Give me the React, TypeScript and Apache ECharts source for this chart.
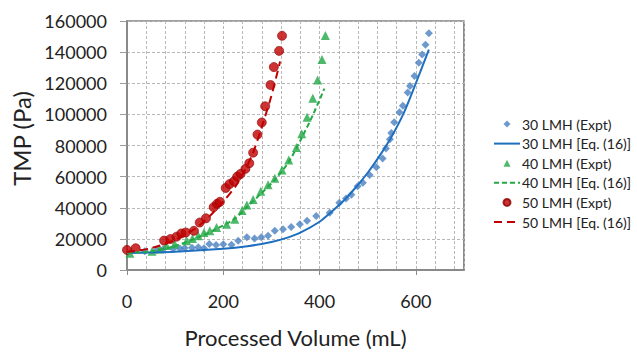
import React, { useEffect, useRef } from "react";
import * as echarts from "echarts";

// Processed volume (mL) vs transmembrane pressure (Pa)
const expt30: [number, number][] = [
  [37, 12100], [62, 12800], [75, 13300], [96, 13700], [110, 13800], [120, 14200],
  [135, 14300], [148, 14600], [160, 14000], [171, 16700], [185, 16000], [200, 16500],
  [217, 16300], [231, 18800], [249, 21000], [265, 20300], [279, 21000], [293, 22000],
  [307, 25200], [324, 26200], [341, 27700], [359, 29400], [374, 31600], [393, 34700],
  [421, 36800], [441, 43200], [455, 45900], [466, 48400], [479, 53800], [490, 56000],
  [504, 61000], [518, 66000], [531, 71700], [538, 78000], [546, 84000], [549, 88000],
  [555, 95000], [566, 101400], [573, 105600], [583, 114100], [588, 118300], [597, 124600],
  [606, 133100], [613, 138400], [620, 144800], [627, 152200],
];
const fit30: [number, number][] = [
  [0, 11000], [100, 11800], [200, 13600], [250, 15300], [300, 18000], [330, 20500],
  [360, 24000], [400, 31000], [425, 37500], [450, 44500], [475, 53000], [500, 62500],
  [525, 73500], [550, 86000], [575, 101000], [600, 120000], [627, 141600],
];
const expt40: [number, number][] = [
  [6, 10800], [52, 12000], [68, 13500], [82, 15700], [99, 16700], [124, 18800],
  [136, 20300], [148, 22000], [160, 24100], [172, 25200], [186, 27300], [207, 29400],
  [224, 32600], [239, 38300], [249, 41700], [262, 45300], [278, 50600], [293, 54800],
  [307, 59000], [322, 64300], [336, 70700], [352, 78700], [363, 87600], [374, 98200],
  [386, 110300], [396, 122100], [405, 135200], [412, 150700],
];
const fit40: [number, number][] = [
  [0, 11000], [52, 12000], [100, 15500], [148, 21000], [186, 26500], [224, 33000],
  [249, 40500], [278, 49000], [307, 58000], [336, 69500], [363, 85000], [386, 99500],
  [410, 116600],
];
const expt50: [number, number][] = [
  [0, 12900], [18, 14000], [77, 18900], [90, 19900], [103, 21400], [113, 23500],
  [122, 24100], [139, 25200], [151, 30500], [164, 33200], [180, 40400], [187, 42500],
  [193, 43800], [205, 52700], [213, 55200], [222, 57000], [229, 60000], [236, 61800],
  [246, 65000], [254, 68600], [262, 75400], [271, 87000], [280, 94800], [287, 105200],
  [298, 118900], [305, 130400], [316, 140800], [322, 150500],
];
const fit50: [number, number][] = [
  [0, 11500], [50, 14000], [100, 19500], [150, 28500], [200, 44000], [230, 56000],
  [260, 74000], [280, 92000], [300, 112000], [318, 134000],
];

const xTicks = [0, 200, 400, 600];
const seriesNames = [
  "30 LMH (Expt)",
  "30 LMH [Eq. (16)]",
  "40 LMH (Expt)",
  "40 LMH [Eq. (16)]",
  "50 LMH (Expt)",
  "50 LMH [Eq. (16)]",
];

const BLUE_PT = "#4a7fc1";
const BLUE_LN = "#1f6fbf";
const GREEN = "#22a845";
const RED = "#c00000";
const FONT = "Lato, 'Open Sans', sans-serif";

// path icons keep their aspect inside the wide legend slot
const DIAMOND_ICON = "path://M0,-1L1,0L0,1L-1,0Z";
const TRIANGLE_ICON = "path://M0,-1L1,1L-1,1Z";
const CIRCLE_ICON = "path://M1,0A1,1,0,1,1,-1,0A1,1,0,1,1,1,0Z";

// line entries show only their stroke; marker entries keep their own shape
const hiddenMarker = { color: "rgba(0,0,0,0)", borderWidth: 0 };
const legendData = [
  { name: seriesNames[0], icon: DIAMOND_ICON },
  { name: seriesNames[1], itemStyle: hiddenMarker },
  { name: seriesNames[2], icon: TRIANGLE_ICON },
  { name: seriesNames[3], itemStyle: hiddenMarker },
  { name: seriesNames[4], icon: CIRCLE_ICON },
  { name: seriesNames[5], itemStyle: hiddenMarker },
];

export default function App() {
  const ref = useRef<HTMLDivElement>(null);

  useEffect(() => {
    if (!ref.current) return;
    const chart = echarts.init(ref.current, undefined, { renderer: "svg" });
    const grid = { left: 127, right: 173, top: 21, bottom: 80 };
    const gridLine = { color: "#b8b8b8", width: 1, type: [3, 2] as number[] };

    chart.setOption({
      animation: false,
      backgroundColor: "#ffffff",
      textStyle: { fontFamily: FONT },
      grid: { ...grid, show: true, borderColor: "#404040", borderWidth: 1.2 },
      xAxis: [
        {
          // fine vertical grid every 40 mL
          type: "value",
          min: 0,
          max: 700,
          interval: 40,
          axisLine: { show: false },
          axisTick: { show: false },
          axisLabel: { show: false },
          splitLine: { show: true, lineStyle: gridLine },
        },
        {
          type: "value",
          min: 0,
          max: 700,
          interval: 200,
          position: "bottom",
          name: "Processed Volume (mL)",
          nameLocation: "middle",
          nameGap: 56,
          nameTextStyle: { fontSize: 22, color: "#222", fontFamily: FONT },
          axisLine: { show: true, onZero: false, lineStyle: { color: "#8a8a8a", width: 2 } },
          axisTick: {
            show: true,
            length: 5,
            lineStyle: { color: "#8a8a8a", width: 1 },
          },
          axisLabel: {
            fontSize: 18,
            color: "#222",
            margin: 22,
            showMaxLabel: false,
            formatter: (v: number) => (xTicks.includes(v) ? String(v) : ""),
          },
          splitLine: { show: false },
        },
      ],
      yAxis: {
        type: "value",
        min: 0,
        max: 160000,
        interval: 20000,
        name: "TMP (Pa)",
        nameLocation: "middle",
        nameGap: 91,
        nameTextStyle: {
          fontSize: 24,
          color: "#222",
          fontFamily: FONT,
          padding: [0, 0, 0, 14],
        },
        axisLine: { show: true, lineStyle: { color: "#8a8a8a", width: 2 } },
        axisTick: { show: true, length: 7, lineStyle: { color: "#9a9a9a", width: 1 } },
        axisLabel: {
          fontSize: 18,
          color: "#222",
          margin: 20,
          formatter: (v: number) => String(v),
        },
        splitLine: { show: true, lineStyle: gridLine },
      },
      legend: {
        orient: "vertical",
        left: 493,
        top: 115,
        padding: 0,
        itemWidth: 26,
        itemHeight: 7,
        itemGap: 1.6,
        symbolKeepAspect: true,
        textStyle: {
          fontSize: 14,
          lineHeight: 18,
          color: "#222",
          fontFamily: FONT,
          padding: [0, 0, 0, -3],
        },
        data: legendData,
      },
      series: [
        {
          name: seriesNames[0],
          type: "scatter",
          xAxisIndex: 1,
          data: expt30,
          symbol: "diamond",
          symbolSize: 8,
          itemStyle: { color: BLUE_PT },
        },
        {
          name: seriesNames[1],
          type: "line",
          xAxisIndex: 1,
          data: fit30,
          smooth: 0.3,
          symbol: "none",
          lineStyle: { color: BLUE_LN, width: 2, type: "solid" },
          itemStyle: { color: BLUE_LN },
        },
        {
          name: seriesNames[2],
          type: "scatter",
          xAxisIndex: 1,
          data: expt40,
          symbol: "triangle",
          symbolSize: 9,
          itemStyle: { color: GREEN },
        },
        {
          name: seriesNames[3],
          type: "line",
          xAxisIndex: 1,
          data: fit40,
          smooth: 0.3,
          symbol: "none",
          lineStyle: { color: GREEN, width: 2, type: [5, 3] },
          itemStyle: { color: GREEN },
        },
        {
          name: seriesNames[4],
          type: "scatter",
          xAxisIndex: 1,
          data: expt50,
          symbol: "circle",
          symbolSize: 9,
          itemStyle: { color: RED, borderColor: "#8a0000", borderWidth: 0.8 },
        },
        {
          name: seriesNames[5],
          type: "line",
          xAxisIndex: 1,
          data: fit50,
          smooth: 0.3,
          symbol: "none",
          lineStyle: { color: RED, width: 2, type: [8, 5] },
          itemStyle: { color: RED },
        },
      ],
    });

    return () => chart.dispose();
  }, []);

  return (
    <div
      ref={ref}
      style={{ position: "absolute", left: 0, top: 0, width: 637, height: 353 }}
    />
  );
}
